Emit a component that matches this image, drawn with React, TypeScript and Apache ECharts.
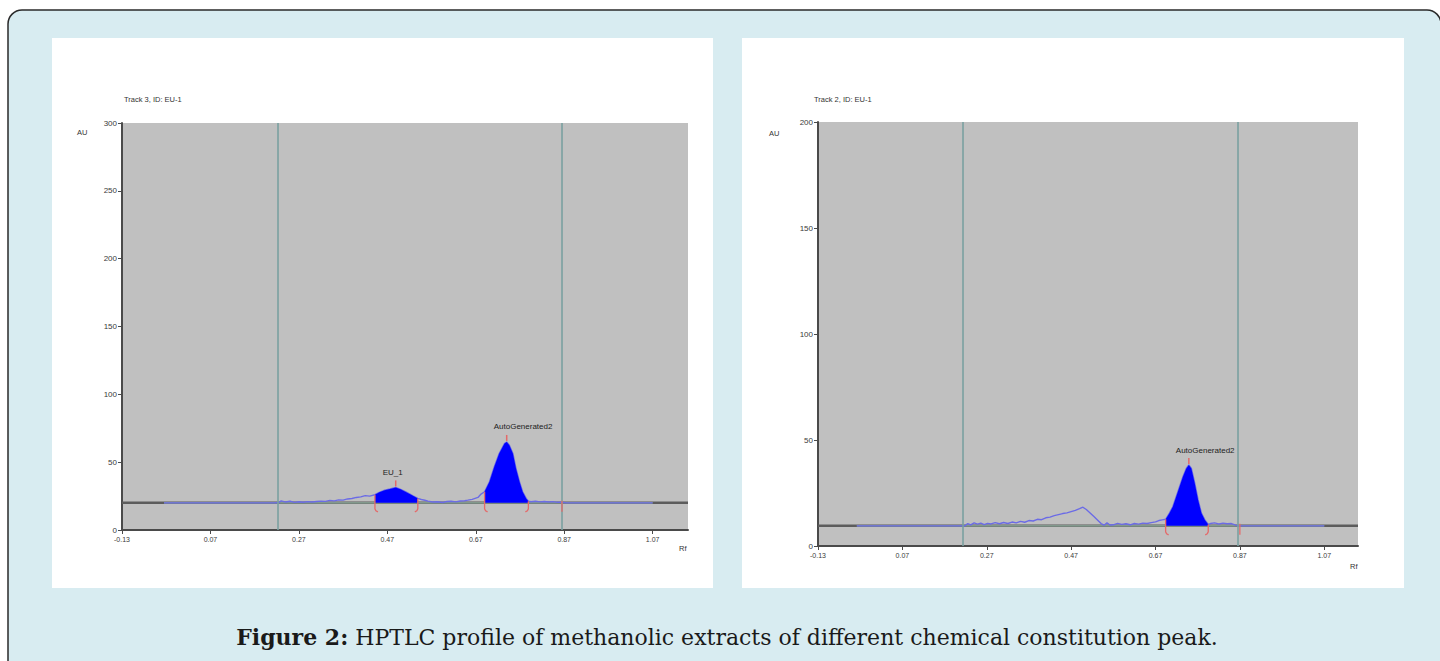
import React, { useEffect, useRef } from "react";
import * as echarts from "echarts";

// ---------- data ----------
const xTickValues = [-0.13, 0.07, 0.27, 0.47, 0.67, 0.87, 1.07];
const xMin = -0.13;
const xMax = 1.15;

// Left densitogram (Track 3)
const leftTitle = "Track 3, ID: EU-1";
const leftYMax = 300;
const leftBaseline = 20;
const leftGuides = [0.222, 0.865];
const leftRf = [
  -0.035, 0.215, 0.225, 0.23, 0.24, 0.25, 0.26, 0.27, 0.28, 0.29, 0.3, 0.31, 0.32, 0.33, 0.34, 0.35,
  0.36, 0.37, 0.38, 0.39, 0.4, 0.41, 0.42, 0.43, 0.442, 0.452, 0.464, 0.476, 0.489, 0.5, 0.513,
  0.528, 0.539, 0.547, 0.555, 0.562, 0.572, 0.584, 0.595, 0.605, 0.614, 0.625, 0.635, 0.645,
  0.652, 0.662, 0.675, 0.682, 0.69, 0.701, 0.712, 0.723, 0.735, 0.74, 0.746, 0.754, 0.761, 0.769,
  0.776, 0.784, 0.789, 0.795, 0.805, 0.815, 0.825, 0.835, 0.845, 0.855, 0.865, 0.875, 1.07,
];
const leftAU = [
  20, 20, 20.3, 21.5, 20.6, 21.2, 20.4, 20.8, 20.5, 20.9, 20.6, 21.0, 21.3, 21.1, 21.8, 21.5,
  22.2, 22.0, 22.9, 23.2, 24.0, 24.4, 25.3, 25.0, 26.0, 27.8, 29.3, 30.2, 31.4, 30.0, 27.9,
  25.2, 23.3, 22.5, 21.9, 21.3, 20.6, 20.8, 20.3, 21.0, 21.2, 20.7, 21.4, 21.6,
  22.0, 22.6, 24.0, 26.5, 28.2, 35.5, 46.6, 56.4, 63.7, 64.9, 62.5, 56.4, 45.3, 35.5,
  28.2, 23.3, 21.2, 20.8, 21.2, 20.7, 21.0, 20.6, 20.9, 20.4, 20.5, 20, 20,
];
const leftPeakStart = [0.442, 0.69];
const leftPeakEnd = [0.539, 0.789];
const leftPeakLabels = ["EU_1", "AutoGenerated2"];
const leftEndTicks = [0.865];

// Right densitogram (Track 2)
const rightTitle = "Track 2, ID: EU-1";
const rightYMax = 200;
const rightBaseline = 9.5;
const rightGuides = [0.212, 0.866];
const rightRf = [
  -0.038, 0.218, 0.225, 0.232, 0.24, 0.248, 0.256, 0.264, 0.272, 0.28, 0.29, 0.3, 0.31, 0.32, 0.33,
  0.34, 0.35, 0.36, 0.37, 0.38, 0.39, 0.4, 0.41, 0.42, 0.43, 0.44, 0.45, 0.46, 0.47, 0.48, 0.49,
  0.498, 0.506, 0.515, 0.524, 0.533, 0.541, 0.548, 0.555, 0.562, 0.57, 0.58, 0.59, 0.6, 0.61,
  0.62, 0.63, 0.64, 0.65, 0.66, 0.67, 0.678, 0.686, 0.694, 0.703, 0.711, 0.723, 0.735, 0.743,
  0.749, 0.755, 0.763, 0.771, 0.779, 0.787, 0.795, 0.8, 0.81, 0.82, 0.83, 0.84, 0.85, 0.86,
  0.87, 1.07,
];
const rightAU = [
  9.5, 9.5, 10.6, 10.0, 10.9, 10.3, 10.8, 10.1, 10.7, 10.4, 11.0, 10.5, 11.1, 10.6, 11.3,
  10.9, 11.6, 11.2, 12.0, 11.8, 12.6, 12.4, 13.3, 13.6, 14.3, 14.8, 15.3, 15.6, 16.2, 16.8, 17.6,
  18.3, 17.2, 15.6, 13.9, 12.2, 10.6, 9.8, 10.9, 9.9, 10.0, 10.7, 10.2, 10.5, 10.0,
  10.6, 10.3, 10.8, 10.6, 11.0, 11.4, 12.0, 12.3, 12.6, 15.5, 18.5, 25.6, 32.7, 36.6,
  38.2, 36.6, 29.6, 21.7, 15.4, 12.3, 10.2, 10.6, 10.9, 10.4, 10.8, 10.5, 10.6, 9.8,
  9.5, 9.5,
];
const rightPeakStart = [0.694];
const rightPeakEnd = [0.795];
const rightPeakLabels = ["AutoGenerated2"];
const rightEndTicks = [0.87];

const captionBold = "Figure 2:";
const captionText = " HPTLC profile of methanolic extracts of different chemical constitution peak.";

// ---------- styling ----------
const AXIS = "#4a4a4a";
const LABEL = "#3a3a3a";
const SIGNAL = "#6b6be6";
const FILL = "#0000ff";
const RED = "#e46a6a";
const GUIDE = "#7aa0a0";
const BASE_DARK = "#5c5c5c";
const BASE_MID = "#8fae9e";
const SANS = "Liberation Sans, Arial, sans-serif";
const SERIF = "DejaVu Serif, serif";

function peakRenderer(rf, au, base, starts, ends, labels) {
  return (params, api) => {
    const i = params.dataIndex;
    const s = starts[i];
    const e = ends[i];
    const pts = [];
    let maxV = -Infinity;
    let maxX = s;
    for (let k = 0; k < rf.length; k++) {
      if (rf[k] >= s - 1e-9 && rf[k] <= e + 1e-9) {
        pts.push([rf[k], au[k]]);
        if (au[k] > maxV) {
          maxV = au[k];
          maxX = rf[k];
        }
      }
    }
    const poly = [api.coord([s, base]), ...pts.map((p) => api.coord(p)), api.coord([e, base])];
    const top = api.coord([maxX, maxV]);
    const sTop = api.coord(pts[0]);
    const eTop = api.coord(pts[pts.length - 1]);
    const b = api.coord([s, base])[1];
    const redStyle = { stroke: RED, lineWidth: 1.3, fill: null };
    return {
      type: "group",
      children: [
        { type: "polygon", shape: { points: poly }, style: { fill: FILL } },
        {
          type: "line",
          shape: { x1: top[0], y1: top[1] - 1, x2: top[0], y2: top[1] - 7 },
          style: { stroke: RED, lineWidth: 1.5 },
        },
        {
          type: "polyline",
          shape: { points: [[sTop[0], sTop[1]], [sTop[0], b + 6], [sTop[0] + 1, b + 8], [sTop[0] + 3, b + 9]] },
          style: redStyle,
        },
        {
          type: "polyline",
          shape: { points: [[eTop[0], eTop[1]], [eTop[0], b + 6], [eTop[0] - 1, b + 8], [eTop[0] - 3, b + 9]] },
          style: redStyle,
        },
        {
          type: "text",
          x: top[0] - 13,
          y: top[1] - 15,
          style: {
            text: labels[i],
            fontSize: 8,
            fontFamily: SANS,
            fill: "#222",
            align: "left",
            textAlign: "left",
            verticalAlign: "middle",
            textVerticalAlign: "middle",
          },
        },
      ],
    };
  };
}

function endTickRenderer() {
  return (params, api) => {
    const p = api.coord([api.value(0), api.value(1)]);
    return {
      type: "line",
      shape: { x1: p[0], y1: p[1] - 2, x2: p[0], y2: p[1] + 9 },
      style: { stroke: RED, lineWidth: 1.3 },
    };
  };
}

function chartSeries(idx, rf, au, base, guides, starts, ends, labels, endTicks, yMax) {
  const common = { xAxisIndex: idx, yAxisIndex: idx, silent: true };
  return [
    {
      ...common,
      type: "line",
      name: `baseline-${idx}`,
      data: [[xMin, base], [xMax, base]],
      symbol: "none",
      lineStyle: { color: BASE_DARK, width: 2.5 },
      z: 1,
    },
    {
      ...common,
      type: "line",
      name: `baseline-mid-${idx}`,
      data: [[rf[0], base], [rf[rf.length - 1], base]],
      symbol: "none",
      lineStyle: { color: BASE_MID, width: 1.3 },
      z: 2,
      markLine: {
        silent: true,
        symbol: "none",
        label: { show: false },
        lineStyle: { color: GUIDE, width: 1.6, type: "solid" },
        data: guides.map((g) => [{ coord: [g, 0] }, { coord: [g, yMax] }]),
      },
    },
    {
      ...common,
      type: "line",
      name: `signal-${idx}`,
      data: rf.map((x, k) => [x, au[k]]),
      symbol: "none",
      lineStyle: { color: SIGNAL, width: 1.4 },
      z: 4,
    },
    {
      ...common,
      type: "custom",
      name: `peaks-${idx}`,
      data: starts.map((s) => [s, base]),
      renderItem: peakRenderer(rf, au, base, starts, ends, labels),
      z: 5,
    },
    {
      ...common,
      type: "custom",
      name: `ticks-${idx}`,
      data: endTicks.map((t) => [t, base]),
      renderItem: endTickRenderer(),
      z: 5,
    },
  ];
}

function xAxisCfg(gridIndex) {
  return {
    type: "value",
    gridIndex,
    min: xMin,
    max: xMax,
    axisLine: { show: true, onZero: false, lineStyle: { color: AXIS, width: 2 } },
    axisTick: { show: true, customValues: xTickValues, length: 4, lineStyle: { color: AXIS, width: 1 } },
    axisLabel: {
      customValues: xTickValues,
      formatter: (v) => Number(v).toFixed(2),
      fontSize: 7,
      fontFamily: SANS,
      color: LABEL,
      margin: 6,
    },
    splitLine: { show: false },
  };
}

function yAxisCfg(gridIndex, max) {
  return {
    type: "value",
    gridIndex,
    min: 0,
    max,
    interval: 50,
    axisLine: { show: true, onZero: false, lineStyle: { color: AXIS, width: 2 } },
    axisTick: { show: true, length: 4, lineStyle: { color: AXIS, width: 1 } },
    axisLabel: { fontSize: 8, fontFamily: SANS, color: LABEL, margin: 5 },
    splitLine: { show: false },
  };
}

function smallText(x, y, text, size = 7.5) {
  return {
    type: "text",
    x,
    y,
    z: 10,
    style: { text, fontSize: size, fontFamily: SANS, fill: "#333", textVerticalAlign: "middle", verticalAlign: "middle" },
  };
}

export default function App() {
  const ref = useRef(null);
  useEffect(() => {
    const chart = echarts.init(ref.current, null, { renderer: "svg" });
    chart.setOption({
      animation: false,
      grid: [
        { left: 122, top: 123, width: 566, height: 407, show: true, backgroundColor: "#c0c0c0", borderWidth: 0 },
        { left: 818, top: 122, width: 540, height: 424, show: true, backgroundColor: "#c0c0c0", borderWidth: 0 },
      ],
      xAxis: [xAxisCfg(0), xAxisCfg(1)],
      yAxis: [yAxisCfg(0, leftYMax), yAxisCfg(1, rightYMax)],
      series: [
        ...chartSeries(0, leftRf, leftAU, leftBaseline, leftGuides, leftPeakStart, leftPeakEnd, leftPeakLabels, leftEndTicks, leftYMax),
        ...chartSeries(1, rightRf, rightAU, rightBaseline, rightGuides, rightPeakStart, rightPeakEnd, rightPeakLabels, rightEndTicks, rightYMax),
      ],
      graphic: [
        {
          type: "rect",
          z: -20,
          shape: { x: 8, y: 10, width: 1433, height: 720, r: 14 },
          style: { fill: "#d8ecf1", stroke: "#2a2a2a", lineWidth: 1.5 },
        },
        { type: "rect", z: -10, shape: { x: 52, y: 38, width: 661, height: 550 }, style: { fill: "#ffffff" } },
        { type: "rect", z: -10, shape: { x: 742, y: 38, width: 662, height: 550 }, style: { fill: "#ffffff" } },
        smallText(124, 99, leftTitle),
        smallText(814, 99, rightTitle),
        smallText(77, 132, "AU"),
        smallText(769, 133, "AU"),
        smallText(679, 548, "Rf"),
        smallText(1350, 566, "Rf"),
        {
          type: "text",
          x: 727,
          y: 637,
          z: 10,
          style: {
            text: `{b|${captionBold}}${captionText}`,
            rich: { b: { fontWeight: "bold", fontSize: 22, fontFamily: SERIF, fill: "#1a1a1a" } },
            fontSize: 22,
            fontFamily: SERIF,
            fill: "#1a1a1a",
            align: "center",
            textAlign: "center",
            verticalAlign: "middle",
            textVerticalAlign: "middle",
          },
        },
      ],
    });
    return () => chart.dispose();
  }, []);
  return (
    <div style={{ position: "fixed", left: 0, top: 0, width: 1440, height: 661, background: "#ffffff" }}>
      <div ref={ref} style={{ width: 1440, height: 661 }} />
    </div>
  );
}
